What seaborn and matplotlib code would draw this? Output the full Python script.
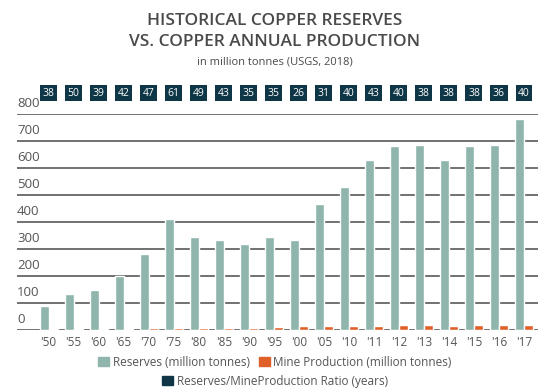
import matplotlib
matplotlib.use("Agg")
import matplotlib.pyplot as plt
import matplotlib.patches as mpatches
import matplotlib.transforms as mtransforms
import seaborn as sns
import pandas as pd

years = ["'50", "'55", "'60", "'65", "'70", "'75", "'80", "'85", "'90", "'95",
         "'00", "'05", "'10", "'11", "'12", "'13", "'14", "'15", "'16", "'17"]
reserves = [90, 135, 150, 200, 280, 410, 345, 335, 320, 345,
            335, 465, 530, 630, 680, 685, 630, 680, 685, 780]
production = [2.4, 2.7, 3.9, 4.8, 6.0, 6.7, 7.1, 7.8, 9.1, 9.9,
              13.0, 15.0, 13.2, 14.6, 17.0, 18.0, 16.6, 18.0, 19.1, 19.7]
ratio = [38, 50, 39, 42, 47, 61, 49, 43, 35, 35,
         26, 31, 40, 43, 40, 38, 38, 38, 36, 40]
yticks = [0, 100, 200, 300, 400, 500, 600, 700, 800]

GREEN = "#8fb5ad"
ORANGE = "#e0602a"
NAVY = "#0e3646"
TEXT = "#555555"
GRID = "#666666"

sns.set_theme(style="white")
plt.rcParams["font.family"] = ["Open Sans", "DejaVu Sans"]

df = pd.DataFrame({
    "year": years * 2,
    "value": reserves + production,
    "series": ["Reserves"] * len(years) + ["Mine"] * len(years),
})

fig = plt.figure(figsize=(5.5, 3.92), dpi=100)
ax = fig.add_axes([17 / 550, 1 - 330 / 392, (538 - 17) / 550, (330 - 114) / 392])

sns.barplot(data=df, x="year", y="value", hue="series", order=years,
            hue_order=["Reserves", "Mine"], palette=[GREEN, ORANGE],
            width=0.72, gap=0.0, saturation=1, legend=False, ax=ax, zorder=3)

ax.set_xlim(-1.26, 19.56)
ax.set_ylim(0, 800)
ax.set_yticks(yticks)
ax.set_yticklabels([])
ax.tick_params(axis="y", length=0)
for v in yticks:
    ax.axhline(v, color=GRID, lw=1.3, zorder=1)
    ax.text(0.0, v + 14, str(v), transform=mtransforms.blended_transform_factory(ax.transAxes, ax.transData),
            ha="left", va="bottom", fontsize=9.5, color=TEXT)
ax.set_xlabel("")
ax.set_ylabel("")
ax.tick_params(axis="x", length=0, pad=4, labelsize=8.5, labelcolor=TEXT)
for s in ax.spines.values():
    s.set_visible(False)

trans = mtransforms.blended_transform_factory(ax.transData, ax.transAxes)
for i, r in enumerate(ratio):
    ax.text(i, 1.097, str(r), transform=trans, ha="center", va="center",
            fontsize=7.5, color="white", clip_on=False,
            bbox=dict(boxstyle="square,pad=0.25", fc=NAVY, ec="none"))

fig.text(0.5, 1 - 21 / 392, "HISTORICAL COPPER RESERVES", ha="center", va="center",
         fontsize=12.5, color="#4a4a4a", fontweight="semibold")
fig.text(0.5, 1 - 42 / 392, "VS. COPPER ANNUAL PRODUCTION", ha="center", va="center",
         fontsize=12.5, color="#4a4a4a", fontweight="semibold")
fig.text(0.5, 1 - 62 / 392, "in million tonnes (USGS, 2018)", ha="center", va="center",
         fontsize=8, color="#4a4a4a")

h1 = [mpatches.Patch(color=GREEN, label="Reserves (million tonnes)"),
      mpatches.Patch(color=ORANGE, label="Mine Production (million tonnes)")]
fig.legend(handles=h1, loc="center", bbox_to_anchor=(0.5, 1 - 362 / 392), ncol=2,
           frameon=False, fontsize=8.5, handlelength=0.9, handleheight=0.9,
           handletextpad=0.3, columnspacing=0.8, labelcolor=TEXT)
h2 = [mpatches.Patch(color=NAVY, label="Reserves/MineProduction Ratio (years)")]
fig.legend(handles=h2, loc="center", bbox_to_anchor=(0.5, 1 - 381 / 392), ncol=1,
           frameon=False, fontsize=8.5, handlelength=0.9, handleheight=0.9,
           handletextpad=0.3, labelcolor=TEXT)

fig.savefig("out.png", dpi=100)
